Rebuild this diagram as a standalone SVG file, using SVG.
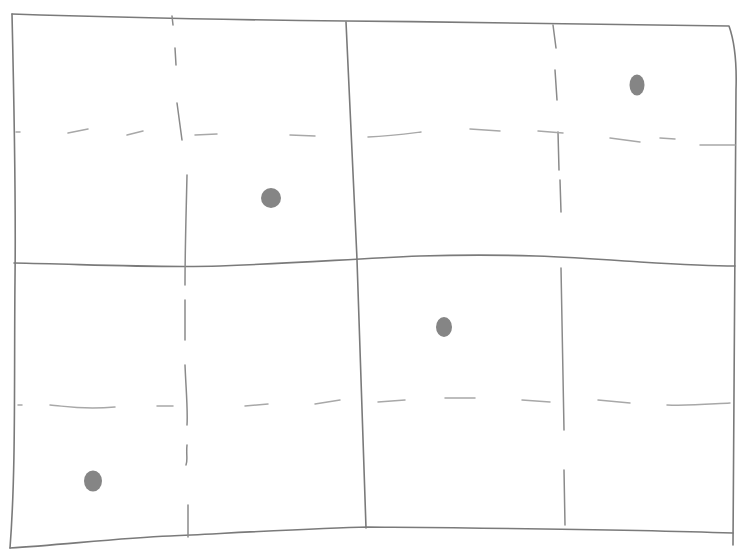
<svg xmlns="http://www.w3.org/2000/svg" width="738" height="549" viewBox="0 0 738 549">
<style>
.s{fill:none;stroke:#7a7a7a;stroke-width:1.6;stroke-linecap:round;stroke-linejoin:round}
.d{fill:none;stroke:#a8a8a8;stroke-width:1.5;stroke-linecap:round}
.v{fill:none;stroke:#8a8a8a;stroke-width:1.5;stroke-linecap:round}
.dot{fill:#858585}
</style>
<rect width="738" height="549" fill="#fff"/>
<g id="frame">
<path class="s" d="M12,14 C100,17 250,20 346,21 C480,22 620,25 729,26 C734,40 737,60 736,90 C735,250 733,400 733,545"/>
<path class="s" d="M12,14 C14,100 16,200 15,280 C14,380 16,470 10,548"/>
<path class="s" d="M10,548 C60,545 120,538 170,536 C250,532 320,528 368,527 C480,528 620,529 733,533"/>
<path class="s" d="M14,263 C80,264 150,268 220,266 C300,263 350,259 420,256 C520,253 580,258 640,262 C690,265 715,266 735,266"/>
<path class="s" d="M346,22 C350,100 354,180 357,260 C360,350 363,440 366,528"/>
</g>
<g id="dashed">
<path class="v" d="M172,16 L173,25 M175,48 L176,65 M177,103 L182,140 M187,175 C186,220 185,250 185,285 M185,300 L185,340 M185,365 C186,390 188,410 187,425 M187,445 C186,455 188,460 186,465 M188,505 L188,537"/>
<path class="v" d="M553,25 L556,48 M555,70 L557,100 M558,132 L559,170 M560,180 L561,212 M561,268 C562,330 563,380 564,430 M564,470 L565,525"/>
<path class="d" d="M16,132 L20,132 M68,133 L88,129 M127,135 L143,131 M195,135 L217,134 M290,135 L315,136 M368,137 C390,136 405,134 421,132 M470,129 L500,131 M538,131 L563,133 M610,138 L640,142 M660,138 L675,139 M700,145 L735,145"/>
<path class="d" d="M18,405 L22,405 M50,405 C65,406 80,410 115,407 M157,406 L173,406 M245,406 L268,404 M315,404 L340,400 M378,402 L405,400 M445,398 L475,398 M522,400 L550,402 M598,400 L630,403 M667,405 C690,406 710,404 730,403"/>
</g>
<g id="dots">
<ellipse class="dot" cx="271" cy="198" rx="10" ry="10"/>
<ellipse class="dot" cx="637" cy="85" rx="7.5" ry="10.5"/>
<ellipse class="dot" cx="444" cy="327" rx="8" ry="10"/>
<ellipse class="dot" cx="93" cy="481" rx="9" ry="10.5"/>
</g>
</svg>
